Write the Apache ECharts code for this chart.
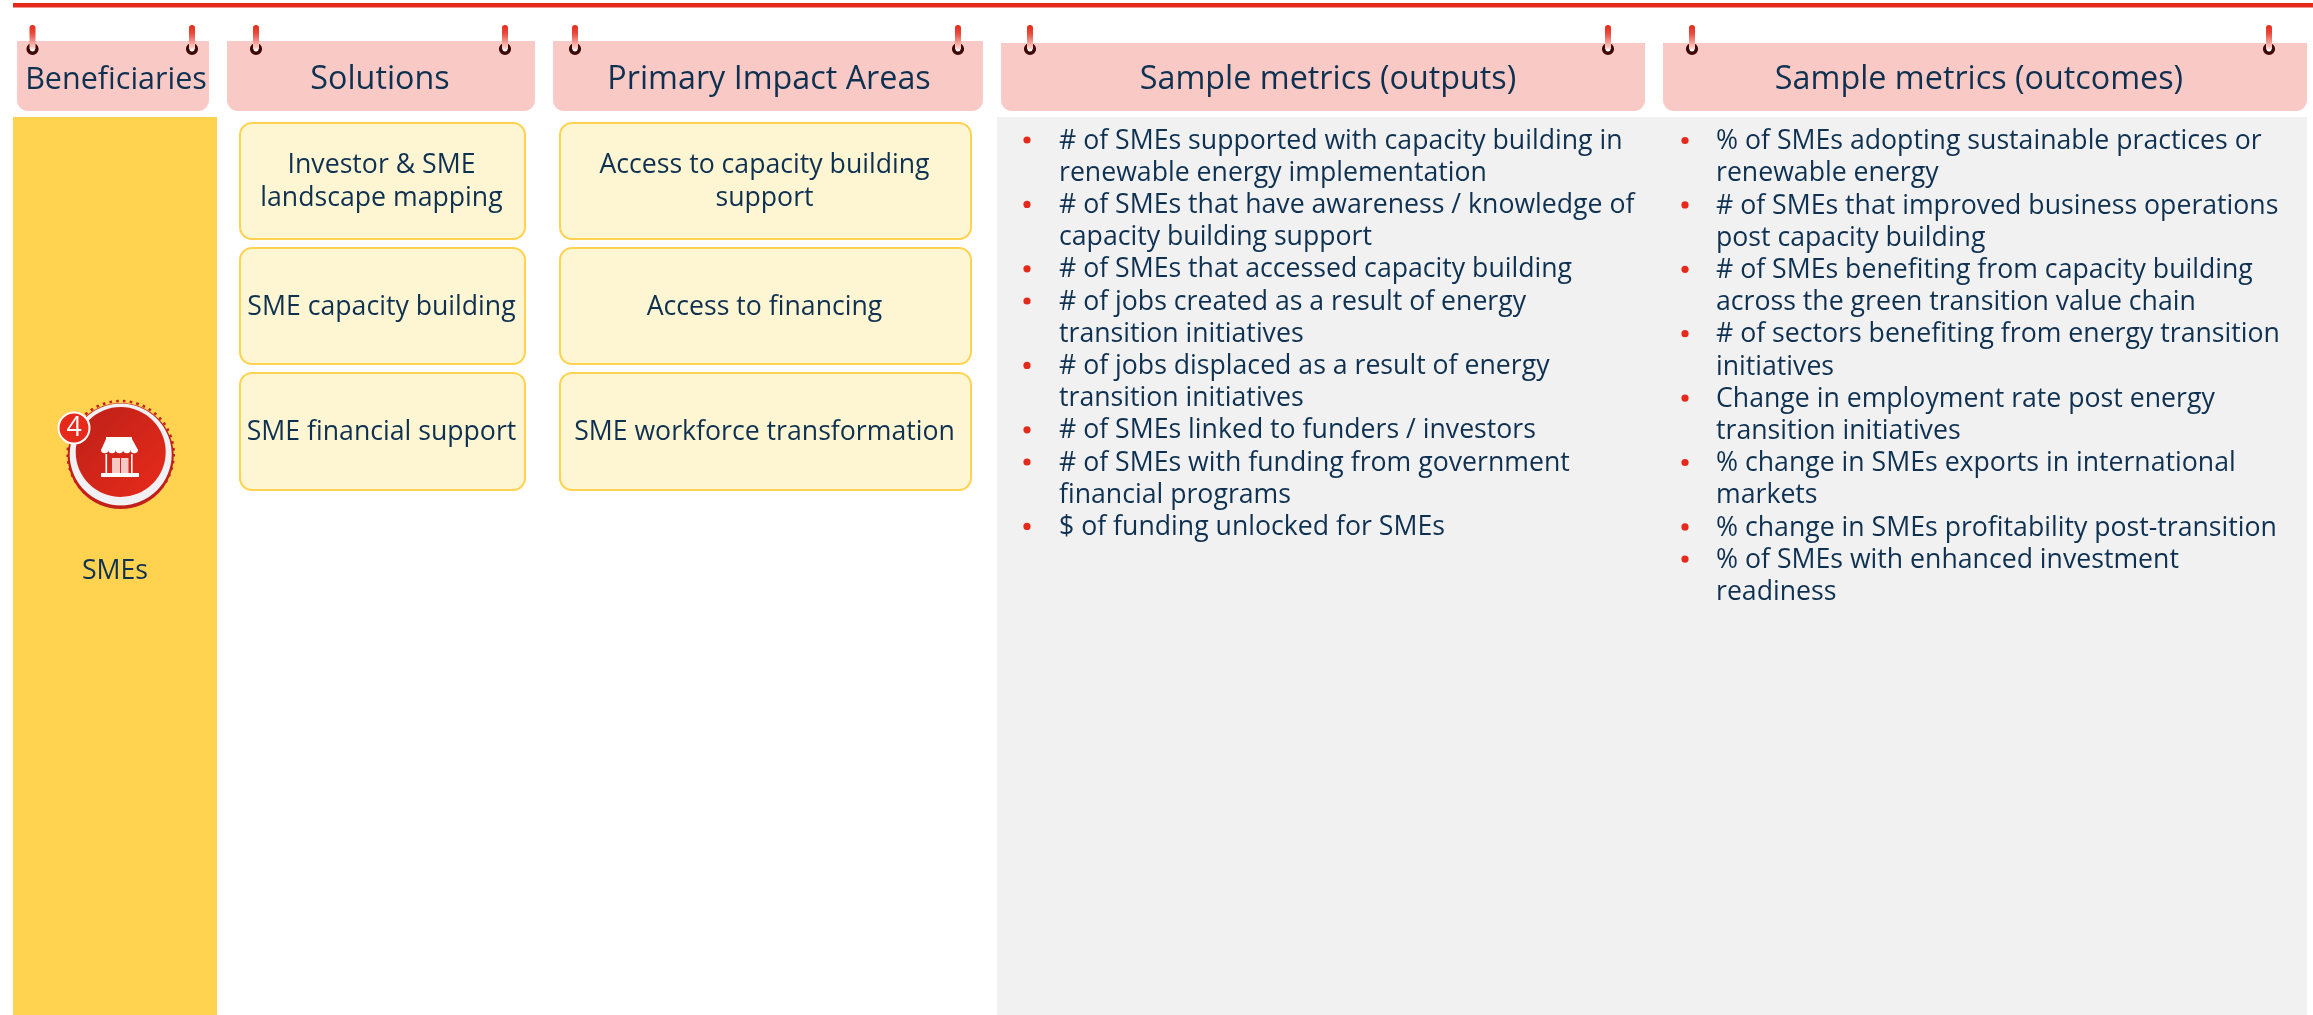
<!DOCTYPE html>
<html><head><meta charset="utf-8">
<style>html,body{margin:0;padding:0;background:#fff}#c{width:2313px;height:1015px}</style>
<script src="https://cdn.jsdelivr.net/npm/echarts@6/dist/echarts.min.js"></script>
</head><body><div id="c"></div>
<script>
const headers = ["Beneficiaries","Solutions","Primary Impact Areas","Sample metrics (outputs)","Sample metrics (outcomes)"];
const beneficiary = "SMEs";
const badge = "4";
const solutions = ["Investor & SME\nlandscape mapping","SME capacity building","SME financial support"];
const impactAreas = ["Access to capacity building\nsupport","Access to financing","SME workforce transformation"];
const outputs = [
 "# of SMEs supported with capacity building in\nrenewable energy implementation",
 "# of SMEs that have awareness / knowledge of\ncapacity building support",
 "# of SMEs that accessed capacity building",
 "# of jobs created as a result of energy\ntransition initiatives",
 "# of jobs displaced as a result of energy\ntransition initiatives",
 "# of SMEs linked to funders / investors",
 "# of SMEs with funding from government\nfinancial programs",
 "$ of funding unlocked for SMEs"];
const outcomes = [
 "% of SMEs adopting sustainable practices or\nrenewable energy",
 "# of SMEs that improved business operations\npost capacity building",
 "# of SMEs benefiting from capacity building\nacross the green transition value chain",
 "# of sectors benefiting from energy transition\ninitiatives",
 "Change in employment rate post energy\ntransition initiatives",
 "% change in SMEs exports in international\nmarkets",
 "% change in SMEs profitability post-transition",
 "% of SMEs with enhanced investment\nreadiness"];

const FONT = '"Open Sans"', INK = '#0F3151', RED = '#E52A1C', YEL = '#FFD24F';
const els = [];
const rect = (x,y,w,h,fill,r,extra) => els.push({type:'rect',shape:{x,y,width:w,height:h,r:r||0},style:Object.assign({fill},extra||{}),silent:true});
const circle = (cx,cy,r,style) => els.push({type:'circle',shape:{cx,cy,r},style,silent:true});
const text = (x,y,t,size,o) => els.push({type:'text',x,y,silent:true,style:Object.assign({text:t,fontFamily:FONT,fontSize:size,fill:INK,align:'center',verticalAlign:'middle'},o||{})});

// top rule and column backgrounds
rect(13,3,2300,4.5,RED);
rect(13,117,204,898,YEL);
rect(997,117,1310,898,'#F1F1F1');

// headers with binder pins
const hdrBox = [[17,41,192,70],[227,41,308,70],[553,41,430,70],[1001,43,644,68],[1663,43,644,68]];
const hdrCx = [116,380,769,1328,1979];
const pinX = [[32.5,192],[256,505],[575,958],[1030,1608],[1692,2269]];
headers.forEach((h,i)=>{
  const [x,y,w,ht] = hdrBox[i];
  rect(x,y,w,ht,'#F9C9C5',[0,0,11,11]);
  text(hdrCx[i],80,h,i==0?30.5:32.3);
  pinX[i].forEach(px=>{
    circle(px,49,4.3,{fill:'#fff',stroke:'#3D0805',lineWidth:3.6});
    rect(px-3,25,6,24,'#E52A1C',[3,3,0,0],{fill:{type:'linear',x:0,y:0,x2:0,y2:1,colorStops:[{offset:0,color:'#E52A1C'},{offset:.35,color:'#E84A3C'},{offset:1,color:'#FBDAD6'}]}});
  });
});

// boxes
const rows = [[123,116],[248,116],[373,117]];
const boxCols = [[240,285,solutions],[560,411,impactAreas]];
boxCols.forEach(([x,w,list])=>list.forEach((t,i)=>{
  const [y,h] = rows[i];
  rect(x,y,w,h,'#FEF5D3',12,{stroke:YEL,lineWidth:2});
  text(x+w/2-1,y+h/2+1,t,26.67,{lineHeight:33});
}));

// bullets
const LH = 32.2;
function bullets(list,bx,tx,y0){
  let line = 0;
  list.forEach(t=>{
    const y = y0 + line*LH;
    circle(bx,y,3.6,{fill:RED});
    t.split('\n').forEach((s,k)=>text(tx,y+k*LH+1,s,26.67,{align:'left'}));
    line += t.split('\n').length;
  });
}
bullets(outputs,1027,1059,140);
bullets(outcomes,1685,1716,140.5);

// beneficiary icon
const cx=120.7, cy=453;
circle(cx,cy+3,53,{fill:'#C2201A'});
circle(cx,cy+1.5,51,{fill:'#F1F1F3'});
circle(cx,cy+1,53,{fill:'none',stroke:'#C2201A',lineWidth:2.6,lineDash:[2.6,4.2]});
circle(cx,cy-1,45,{fill:{type:'linear',x:0,y:0,x2:1,y2:1,colorStops:[{offset:0,color:'#BD2018'},{offset:1,color:'#E82B1B'}]}});
// shop glyph
rect(106,437,26,2,'#fff');
els.push({type:'polygon',silent:true,shape:{points:[[106,439],[132,439],[138,450],[101,450]]},style:{fill:'#fff'}});
[104.7,112,119.4,126.8,134.2].forEach(x=>els.push({type:'sector',silent:true,shape:{cx:x,cy:449.5,r:3.8,startAngle:0,endAngle:Math.PI},style:{fill:'#fff'}}));
rect(105.5,454,1.6,19,'#fff'); rect(131,454,1.6,19,'#fff');
rect(112,458,8,15,'#F6C9C4'); rect(121,458,7.5,15,'#F6C9C4');
rect(101,473,38,4,'#fff');
// badge
circle(74,428,15.5,{fill:RED,stroke:'#fff',lineWidth:2});
text(74,428.5,badge,26.67,{fill:'#fff'});
text(115,571,beneficiary,26.67);

const chart = echarts.init(document.getElementById('c'),null,{renderer:'canvas',width:2313,height:1015});
chart.setOption({animation:false,backgroundColor:'#fff',graphic:{elements:els}});
</script></body></html>
